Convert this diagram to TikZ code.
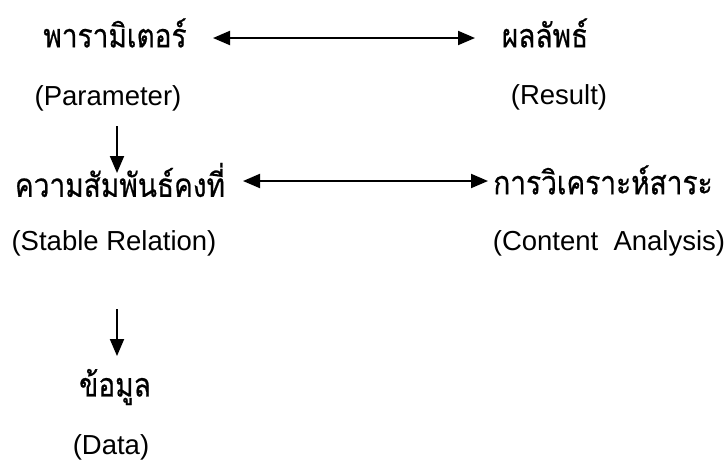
\documentclass[tikz,border=0pt]{standalone}
\usepackage{fontspec}
\setmainfont{Liberation Sans}
\newfontfamily\thaifont[Script=Thai,FakeStretch=0.85,FakeBold=0.6]{Loma}
\usetikzlibrary{arrows.meta}
\begin{document}
\begin{tikzpicture}[x=1pt,y=1pt,
  thai/.style={font=\thaifont\fontsize{33}{36}\selectfont, inner sep=0pt},
  eng/.style={font=\fontsize{27.5}{30}\selectfont, inner sep=0pt},
  arr/.style={line width=1.9pt, -{Triangle[length=17pt,width=14pt]}},
  darr/.style={line width=1.9pt, {Triangle[length=17pt,width=14pt]}-{Triangle[length=17pt,width=14pt]}}]
\useasboundingbox (0,0) rectangle (728,-464);
\node[thai] (pt) at (115,-33) {พารามิเตอร์};
\node[eng]  (pe) at (108,-98) {(Parameter)};
\node[thai] (rt) at (545,-33) {ผลลัพธ์};
\node[eng]  (re) at (559,-97) {(Result)};
\node[thai] (st) at (120,-180) {ความสัมพันธ์คงที่};
\node[eng]  (se) at (114,-243) {(Stable Relation)};
\node[thai] (ct) at (603,-180) {การวิเคราะห์สาระ};
\node[eng]  (ce) at (609,-243) {(Content~ Analysis)};
\node[thai] (dt) at (115,-387) {ข้อมูล};
\node[eng]  (de) at (111,-447) {(Data)};
\coordinate (a1) at (213,-38);
\coordinate (a2) at (475,-38);
\coordinate (b1) at (243,-181);
\coordinate (b2) at (488,-181);
\coordinate (c1) at (117,-126);
\coordinate (c2) at (117,-173);
\coordinate (d1) at (117,-309);
\coordinate (d2) at (117,-356);
\draw[darr] (a1) -- (a2);
\draw[darr] (b1) -- (b2);
\draw[arr] (c1) -- (c2);
\draw[arr] (d1) -- (d2);
\end{tikzpicture}
\end{document}
